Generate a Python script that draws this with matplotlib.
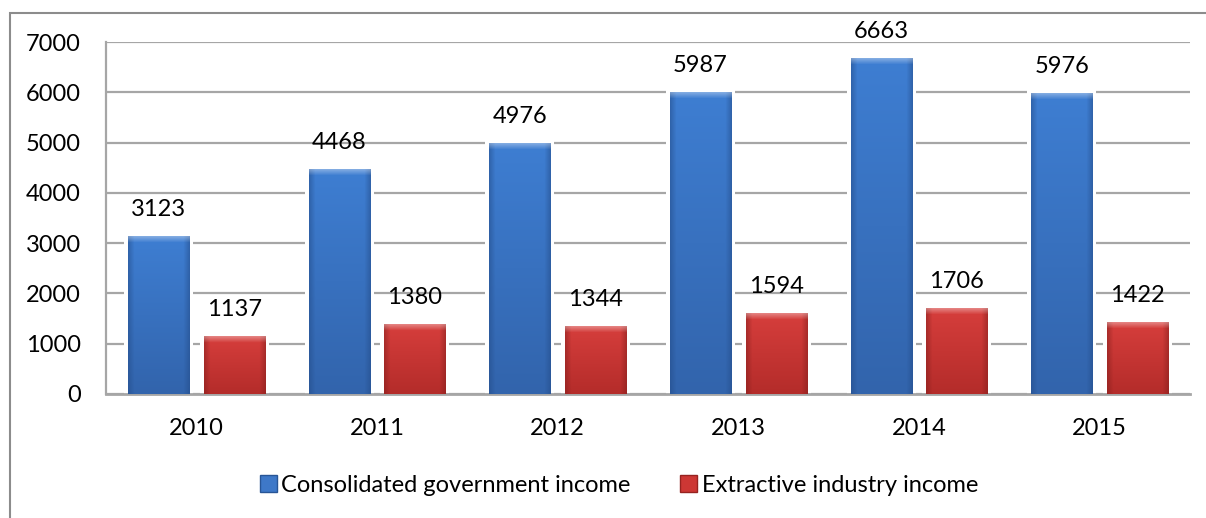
import numpy as np
import matplotlib
matplotlib.use("Agg")
import matplotlib.pyplot as plt
from matplotlib.patches import Rectangle, Patch

years = ["2010", "2011", "2012", "2013", "2014", "2015"]
gov_income = [3123, 4468, 4976, 5987, 6663, 5976]
extractive_income = [1137, 1380, 1344, 1594, 1706, 1422]
series_names = ["Consolidated government income", "Extractive industry income"]

W, H = 1206, 518
fig = plt.figure(figsize=(W / 100, H / 100), dpi=100)
plt.rcParams['font.family'] = ['Lato', 'DejaVu Sans']
FS = 17

# outer chart frame (cropped on right/bottom)
fig.patches.append(Rectangle((10 / W, -0.1), 1.2, (518 - 13) / H + 0.1,
                             transform=fig.transFigure, fill=False,
                             edgecolor='#8c8c8c', linewidth=1.5))

L, R, T, B = 106, 1190, 42, 394
ax = fig.add_axes([L / W, 1 - B / H, (R - L) / W, (B - T) / H])
ax.set_xlim(-0.5, len(years) - 0.5)
ax.set_ylim(0, 7000)
ax.set_yticks(range(0, 7001, 1000))
ax.yaxis.grid(True, color='#a6a6a6', linewidth=1.6)
ax.set_axisbelow(True)
for s in ['top', 'right']:
    ax.spines[s].set_visible(False)
ax.spines['left'].set_color('#a6a6a6')
ax.spines['left'].set_linewidth(1.6)
ax.spines['bottom'].set_color('#a6a6a6')
ax.spines['bottom'].set_linewidth(2)
ax.tick_params(axis='both', length=0, labelsize=FS, colors='black')
ax.tick_params(axis='y', pad=18)
ax.tick_params(axis='x', pad=17)
x = np.arange(len(years))
ax.set_xticks(x)
ax.set_xticklabels(years)

bw = 0.338
off = 0.21
px_per_unit_y = (B - T) / 7000.0
px_per_unit_x = (R - L) / len(years)


def draw_bars(xs, vals, c_top, c_bot, c_edge, label):
    bars = ax.bar(xs, vals, width=bw, color=np.array(c_top) / 255, label=label,
                  zorder=2, linewidth=0)
    ct = np.array(c_top) / 255
    cb = np.array(c_bot) / 255
    ce = np.array(c_edge) / 255
    for b, v in zip(bars, vals):
        b.set_alpha(0)
        x0, y0 = b.get_x(), b.get_y()
        w, h = b.get_width(), b.get_height()
        # white halo so gridlines stop short of the bar
        hx = 4 / px_per_unit_x
        hy = 4 / px_per_unit_y
        ax.add_patch(Rectangle((x0 - hx, 0), w + 2 * hx, h + hy, facecolor='white',
                               edgecolor='none', zorder=1.5))
        npx = max(int(round(w * px_per_unit_x)), 2)
        npy = max(int(round(h * px_per_unit_y)), 2)
        rows = np.linspace(0, 1, npy)[:, None]
        img = ct[None, None, :] * (1 - rows[..., None]) + cb[None, None, :] * rows[..., None]
        img = np.repeat(img, npx, axis=1)
        cols = np.arange(npx)
        bev = 6
        side = np.clip(1 - np.minimum(cols, npx - 1 - cols) / bev, 0, 1) * 0.5
        img = img * (1 - side[None, :, None]) + ce[None, None, :] * side[None, :, None]
        rr = np.arange(npy)
        topb = np.clip(1 - rr / bev, 0, 1) * 0.35
        img = img * (1 - topb[:, None, None]) + 1.0 * topb[:, None, None]
        ax.imshow(img, extent=(x0, x0 + w, y0, y0 + h), aspect='auto',
                  origin='upper', zorder=3, interpolation='bilinear')
        ax.text(x0 + w / 2, y0 + h + 27 / px_per_unit_y, f"{int(v)}",
                ha='center', va='center', fontsize=FS, zorder=4)
    return bars


draw_bars(x - off, gov_income, (62, 126, 210), (50, 100, 172), (35, 75, 135), series_names[0])
draw_bars(x + off, extractive_income, (214, 62, 60), (180, 44, 42), (130, 30, 28), series_names[1])

ax.set_xlim(-0.5, len(years) - 0.5)
ax.set_ylim(0, 7000)

handles = [Patch(facecolor=(62/255, 120/255, 200/255), edgecolor=(40/255, 85/255, 150/255)),
           Patch(facecolor=(205/255, 55/255, 52/255), edgecolor=(150/255, 35/255, 32/255))]
fig.legend(handles, series_names, loc='center', bbox_to_anchor=(619 / W, 1 - 485 / H),
           ncol=2, frameon=False, fontsize=FS, handlelength=0.7, handleheight=0.7,
           handletextpad=0.2, columnspacing=2.1)

fig.savefig("out.png", dpi=100)
